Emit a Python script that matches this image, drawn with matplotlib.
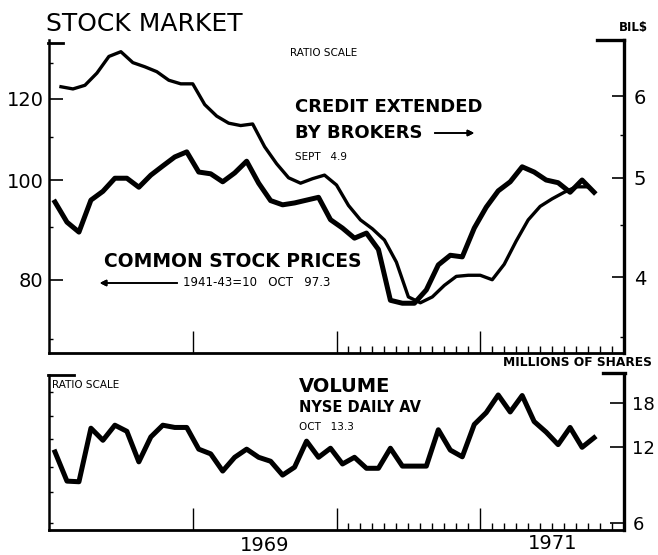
import matplotlib
matplotlib.use("Agg")
import matplotlib.pyplot as plt
from matplotlib.ticker import NullFormatter
import numpy as np

# monthly series, Jan 1968 .. Oct 1971
stock_prices = [95.2, 91.0, 89.0, 95.6, 97.5, 100.4, 100.4, 98.4, 101.1, 103.2, 105.3, 106.5,
                101.8, 101.4, 99.6, 101.6, 104.3, 99.3, 95.5, 94.6, 95.0, 95.6, 96.2, 91.5,
                89.8, 87.8, 88.8, 85.6, 76.4, 75.9, 75.9, 78.2, 82.7, 84.5, 84.2, 89.8,
                94.1, 97.6, 99.6, 103.0, 101.8, 100.0, 99.4, 97.3, 100.0, 97.3]

# broker credit, end of month, Jan 1968 .. Sep 1971 (bils)
broker_credit = [6.13, 6.10, 6.15, 6.32, 6.56, 6.63, 6.47, 6.41, 6.34, 6.22, 6.17, 6.17,
                 5.89, 5.74, 5.65, 5.62, 5.64, 5.36, 5.16, 5.00, 4.94, 4.99, 5.03, 4.92,
                 4.70, 4.55, 4.46, 4.35, 4.14, 3.83, 3.78, 3.83, 3.93, 4.01, 4.02, 4.02,
                 3.98, 4.12, 4.34, 4.55, 4.69, 4.77, 4.84, 4.90, 4.90]

# NYSE daily average volume, millions of shares
volume = [11.5, 8.8, 8.75, 14.3, 12.8, 14.7, 13.9, 10.5, 13.2, 14.7, 14.4, 14.4,
          11.8, 11.3, 9.65, 10.95, 11.8, 10.95, 10.56, 9.3, 10.0, 12.7, 10.95, 11.9,
          10.3, 10.95, 9.9, 9.9, 11.9, 10.1, 10.1, 10.1, 14.1, 11.7, 11.0, 14.8,
          16.5, 19.4, 16.6, 19.3, 15.2, 13.8, 12.3, 14.4, 12.0, 13.1]

stock_x = 1968 + (np.arange(len(stock_prices)) + 0.5) / 12
credit_x = 1968 + (np.arange(len(broker_credit)) + 1) / 12
volume_x = 1968 + (np.arange(len(volume)) + 0.5) / 12

W, H = 658, 555


def fx(x):
    return x / W


def fy(y):
    return 1 - y / H


fig = plt.figure(figsize=(W / 100, H / 100), dpi=100)

ax1 = fig.add_axes([fx(49), fy(353), 575 / W, 313 / H])
ax2 = fig.add_axes([fx(49), fy(530), 575 / W, 155 / H])

months = 1970 + np.arange(1, 24) / 12
months = months[np.abs(months - 1971) > 1e-6]

for ax in (ax1, ax2):
    ax.set_xlim(1968, 1972)
    ax.set_xticks([1969, 1970, 1971])
    ax.set_xticks(months, minor=True)
    ax.tick_params(axis="x", which="major", direction="in", length=16, width=1.0,
                   labelbottom=False)
    ax.tick_params(axis="x", which="minor", direction="in", length=5, width=1.0)
    ax.spines["top"].set_visible(False)
    ax.spines["right"].set_visible(False)
    ax.spines["left"].set_linewidth(1.8)
    ax.spines["bottom"].set_linewidth(2.0)
    ax.set_yscale("log")

# ---- top panel ----
ax1.set_ylim(67.9, 136.8)
ax1.plot(stock_x, stock_prices, color="black", lw=3.6)
ax1.set_yticks([80, 100, 120], labels=["80", "100", "120"])
ax1.set_yticks([70, 90, 110, 130], minor=True)
ax1.yaxis.set_minor_formatter(NullFormatter())
ax1.tick_params(axis="y", which="major", direction="in", length=10, width=1.2,
                labelsize=14, pad=4)
ax1.tick_params(axis="y", which="minor", direction="in", length=3, width=1.0)

ax1r = ax1.twinx()
ax1r.set_yscale("log")
ax1r.set_ylim(67.9 / 20.1, 136.8 / 20.1)
ax1r.plot(credit_x, broker_credit, color="black", lw=2.4)
ax1r.set_yticks([4, 5, 6], labels=["4", "5", "6"])
ax1r.set_yticks([3.5, 4.5, 5.5], minor=True)
ax1r.yaxis.set_minor_formatter(NullFormatter())
ax1r.tick_params(axis="y", which="major", direction="in", length=9, width=1.2,
                 labelsize=14, pad=7)
ax1r.tick_params(axis="y", which="minor", direction="in", length=3, width=1.0)
for s in ("top", "left", "bottom"):
    ax1r.spines[s].set_visible(False)
ax1r.spines["right"].set_linewidth(2.4)

# ---- bottom panel ----
ax2.set_ylim(5.62, 23.3)
ax2.plot(volume_x, volume, color="black", lw=3.6)
ax2.set_yticks([])
ax2.set_yticks([6, 8, 10, 13, 16, 20], minor=True)
ax2.yaxis.set_minor_formatter(NullFormatter())
ax2.tick_params(axis="y", which="minor", direction="in", length=3, width=1.0)

ax2r = ax2.twinx()
ax2r.set_yscale("log")
ax2r.set_ylim(5.62, 23.3)
ax2r.set_yticks([6, 12, 18], labels=["6", "12", "18"])
ax2r.yaxis.set_minor_formatter(NullFormatter())
ax2r.set_yticks([], minor=True)
ax2r.tick_params(axis="y", which="major", direction="in", length=10, width=1.2,
                 labelsize=13, pad=6)
for s in ("top", "left", "bottom"):
    ax2r.spines[s].set_visible(False)
ax2r.spines["right"].set_linewidth(2.4)

# corner brackets of the frames
for (x0, x1, y, lw) in [(48, 63, 43, 2.0), (597, 624, 40, 2.4),
                        (48, 74, 375, 2.0), (603, 625, 373, 2.4)]:
    fig.add_artist(plt.Line2D([fx(x0), fx(x1)], [fy(y), fy(y)], color="black", lw=lw))

# ---- text ----
fig.text(fx(46), fy(24), "STOCK MARKET", fontsize=18, va="center", ha="left")
fig.text(fx(290), fy(53), "RATIO SCALE", fontsize=7.5, va="center", ha="left")
fig.text(fx(295), fy(107), "CREDIT EXTENDED", fontsize=13, fontweight="bold",
         va="center", ha="left")
fig.text(fx(295), fy(133), "BY BROKERS", fontsize=13, fontweight="bold",
         va="center", ha="left")
fig.text(fx(295), fy(157), "SEPT   4.9", fontsize=7.5, va="center", ha="left")
fig.text(fx(104), fy(261), "COMMON STOCK PRICES", fontsize=13.5, fontweight="bold",
         va="center", ha="left")
fig.text(fx(183), fy(283), "1941-43=10   OCT   97.3", fontsize=8.5,
         va="center", ha="left")
fig.text(fx(633), fy(27), "BIL$", fontsize=8.5, fontweight="bold",
         va="center", ha="center")

fig.add_artist(plt.annotate("", xy=(fx(477), fy(133)), xytext=(fx(432), fy(133)),
                            xycoords="figure fraction", textcoords="figure fraction",
                            arrowprops=dict(arrowstyle="-|>", color="black", lw=1.2,
                                            mutation_scale=9)))
fig.add_artist(plt.annotate("", xy=(fx(97), fy(283)), xytext=(fx(180), fy(283)),
                            xycoords="figure fraction", textcoords="figure fraction",
                            arrowprops=dict(arrowstyle="-|>", color="black", lw=1.2,
                                            mutation_scale=9)))

fig.text(fx(652), fy(363), "MILLIONS OF SHARES", fontsize=8.8, fontweight="bold",
         va="center", ha="right")
fig.text(fx(52), fy(385), "RATIO SCALE", fontsize=7.5, va="center", ha="left")
fig.text(fx(299), fy(386), "VOLUME", fontsize=14, fontweight="bold",
         va="center", ha="left")
fig.text(fx(299), fy(407), "NYSE DAILY AV", fontsize=10.5, fontweight="bold",
         va="center", ha="left")
fig.text(fx(299), fy(427), "OCT   13.3", fontsize=7.5, va="center", ha="left")

xt = ax2.get_xaxis_transform()
ax2.text(1969.5, -0.1, "1969", fontsize=14, ha="center", va="center", transform=xt)
ax2.text(1971.5, -0.085, "1971", fontsize=14, ha="center", va="center", transform=xt)

fig.savefig("out.png", dpi=100)
